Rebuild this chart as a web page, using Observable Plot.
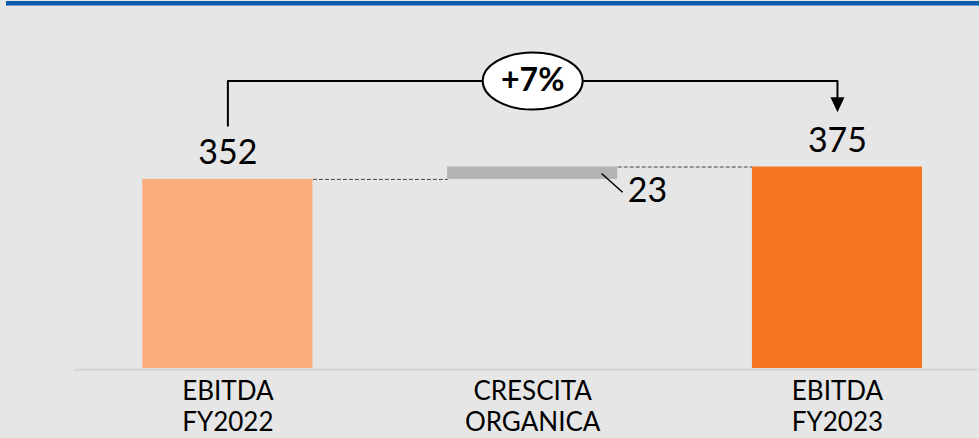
<!DOCTYPE html>
<html><head><meta charset="utf-8">
<script src="https://cdn.jsdelivr.net/npm/d3@7"></script>
<script src="https://cdn.jsdelivr.net/npm/@observablehq/plot@0.6"></script>
<style>
html,body{margin:0;padding:0;background:#e6e6e6;}
#wrap{position:relative;width:979px;height:438px;overflow:hidden;}
#topline{position:absolute;left:6px;right:0;top:1px;height:4px;background:#0b5ca9;border-bottom:1px solid #6b9ad3;}
svg{display:block;}
</style></head><body><div id="wrap"><div id="topline"></div></div>
<script>
// ---- data ----
const categories = ["EBITDA\nFY2022", "CRESCITA\nORGANICA", "EBITDA\nFY2023"];
const values = [352, 23, 375];
const kinds = ["total", "delta", "total"];
const valueLabels = ["352", "23", "375"];
const growthLabel = "+7%";

// ---- styles / layout (not data) ----
const colors = {total0: "#f9ae7a", delta: "#b3b3b3", total1: "#f47720"};
const halfWidth = 0.279;           // half bar width in category units
const bracketLevel = 535;          // value-axis level of bracket
const bracketLeftEnd = 452;        // bottom of left vertical
const arrowTip = 477;              // arrow tip level
const arrowBase = 505;             // arrow base level
const leader = {x1: 1.226, y1: 363, x2: 1.295, y2: 328};

// build waterfall rows
let running = 0;
const rows = categories.map((cat, i) => {
  let y1, y2;
  if (kinds[i] === "total") { y1 = 0; y2 = values[i]; running = values[i]; }
  else { y1 = running; y2 = running + values[i]; running = y2; }
  const fill = kinds[i] === "delta" ? colors.delta : (i === 0 ? colors.total0 : colors.total1);
  return {i, cat, y1, y2, fill, label: valueLabels[i], kind: kinds[i]};
});
const connectors = rows.slice(0, -1).map((r) => ({x1: r.i + halfWidth, x2: r.i + 1 - halfWidth, y: r.y2}));
const first = rows[0], last = rows[rows.length - 1];
const bracket = [
  {x: first.i, y: bracketLeftEnd},
  {x: first.i, y: bracketLevel},
  {x: last.i, y: bracketLevel},
  {x: last.i, y: arrowBase}
];

const ellipseSymbol = {draw(ctx) {
  const rx = 50, ry = 28.5, k = 0.5523;
  ctx.moveTo(rx, 0);
  ctx.bezierCurveTo(rx, ry * k, rx * k, ry, 0, ry);
  ctx.bezierCurveTo(-rx * k, ry, -rx, ry * k, -rx, 0);
  ctx.bezierCurveTo(-rx, -ry * k, -rx * k, -ry, 0, -ry);
  ctx.bezierCurveTo(rx * k, -ry, rx, -ry * k, rx, 0);
  ctx.closePath();
}};
const arrowSymbol = {draw(ctx) {
  ctx.moveTo(-7, -15); ctx.lineTo(7, -15); ctx.lineTo(0, 0); ctx.closePath();
}};

const font = "Lato, 'Open Sans', sans-serif";
const totals = rows.filter(r => r.kind === "total");
const deltas = rows.filter(r => r.kind === "delta");

const chart = Plot.plot({
  width: 979, height: 438,
  marginTop: 0, marginBottom: 70, marginLeft: 75, marginRight: 0,
  style: {background: "#e6e6e6", fontFamily: font, color: "#000"},
  x: {type: "linear", domain: [-0.5, 2.466], range: [75, 979], axis: null},
  y: {type: "linear", domain: [0, 685], range: [368, 0], axis: null},
  marks: [
    Plot.ruleY([0], {stroke: "#d4d4d4", strokeWidth: 2, dy: 1.2}),
    Plot.link(connectors, {x1: "x1", x2: "x2", y1: "y", y2: "y", stroke: "#444", strokeWidth: 1, strokeDasharray: "4,2"}),
    Plot.rectY(rows, {x1: d => d.i - halfWidth, x2: d => d.i + halfWidth, y1: "y1", y2: "y2", fill: "fill"}),
    Plot.link([leader], {x1: "x1", y1: "y1", x2: "x2", y2: "y2", stroke: "#000", strokeWidth: 1.5}),
    Plot.text(rows, {x: "i", y: () => 0, text: "cat", lineAnchor: "top", dy: 9, fontSize: 26, lineHeight: 1.2, fill: "#000"}),
    Plot.text(totals, {x: "i", y: "y2", text: "label", dy: -26, fontSize: 34, fill: "#000"}),
    Plot.text(deltas, {x: d => d.i + halfWidth, y: "y1", text: "label", textAnchor: "start", dx: 10, dy: 12, fontSize: 34, fill: "#000"}),
    Plot.line(bracket, {x: "x", y: "y", stroke: "#000", strokeWidth: 2, curve: "linear"}),
    Plot.dot([{x: last.i, y: arrowTip}], {x: "x", y: "y", r: 5, symbol: arrowSymbol, fill: "#000", stroke: "none"}),
    Plot.dot([{x: (first.i + last.i) / 2, y: bracketLevel}], {x: "x", y: "y", r: 5, symbol: ellipseSymbol, fill: "#fff", stroke: "#000", strokeWidth: 2}),
    Plot.text([{x: (first.i + last.i) / 2, y: bracketLevel}], {x: "x", y: "y", text: () => growthLabel, fontSize: 32, fontWeight: "bold", fill: "#000"})
  ]
});
document.getElementById("wrap").appendChild(chart);
</script></body></html>
